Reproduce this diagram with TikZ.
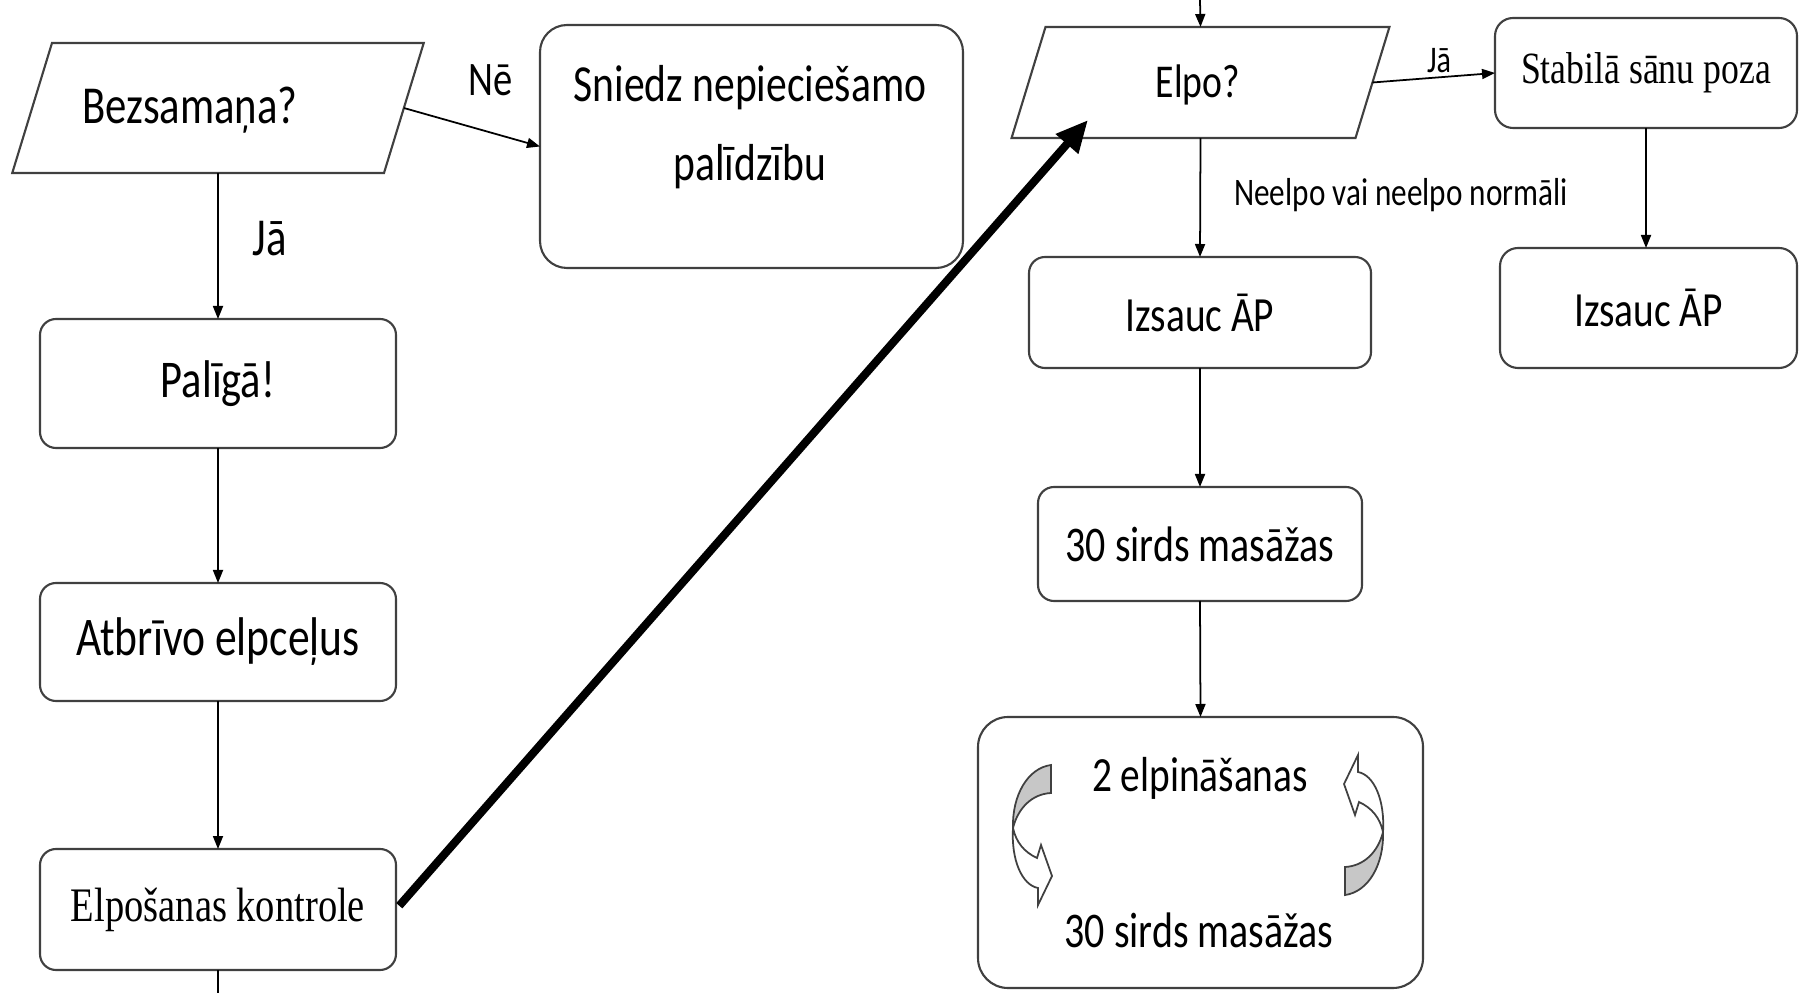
\documentclass[tikz,border=0pt]{standalone}
\usepackage{fontspec}
\setmainfont{Carlito}[FakeStretch=0.8]
\newfontfamily\timesfont{Liberation Serif}[FakeStretch=0.8]
\usetikzlibrary{arrows.meta,positioning,shapes.geometric}
\newcommand\fsz[1]{\fontsize{#1pt}{1.2\dimexpr #1pt\relax}\selectfont}

\tikzset{
  stepbox/.style={draw=black!75, line width=0.6pt, rounded corners=1.6mm, inner sep=0pt, outer sep=0pt},
  askbox/.style={draw=black!75, line width=0.6pt, trapezium, trapezium left angle=73, trapezium right angle=107,
    outer sep=0pt},
  flow/.style={-{Triangle[length=1.3mm,width=1mm]}, line width=0.5pt},
  jump/.style={-{Triangle[length=3.2mm,width=2.8mm]}, line width=2.3pt},
  turnfill/.style={draw=black!75, line width=0.5pt}
}

\begin{document}
\begin{tikzpicture}[x=0.1mm,y=-0.1mm]
  \fill[white] (0,0) rectangle (1800,993);
  \useasboundingbox (0,0) rectangle (1800,993);
  % left column
  \node[askbox, inner xsep=16.6mm, inner ysep=6.5mm] (bez) at (218,108) {};
  \node[font=\fsz{15.2}] (beztxt) at (190,110) {Bezsamaņa?};
  \node[stepbox, minimum width=35.6mm, minimum height=12.9mm, font=\fsz{15.1}] (paliga) at (218,383.5) {Palīgā!};
  \node[stepbox, minimum width=35.6mm, minimum height=11.8mm, font=\fsz{15.5}] (atbrivo) at (218,642) {Atbrīvo elpceļus};
  \node[stepbox, minimum width=35.6mm, minimum height=12.1mm, font=\timesfont\fsz{13.7}] (kontrole) at (218,909.5) {Elpošanas kontrole};
  \coordinate (exit) at (218,993);
  % help box
  \node[stepbox, rounded corners=2.7mm, minimum width=42.3mm, minimum height=24.3mm] (sniedz) at (751.5,146.5) {};
  \node[font={\fontsize{14.8pt}{22.5pt}\selectfont}, align=center] (sniedztxt) at (750,127) {Sniedz nepieciešamo\\palīdzību};
  % right part
  \coordinate (entry) at (1200,0);
  \node[askbox, inner xsep=15.5mm, inner ysep=5.55mm] (elpo) at (1200.5,82.5) {};
  \node[font=\fsz{13.4}] (elpotxt) at (1198,85) {Elpo?};
  \coordinate (elpotip) at (1088,120);
  \node[stepbox, rounded corners=1.8mm, minimum width=30.2mm, minimum height=11mm, font=\timesfont\fsz{12.7}] (stabila) at (1646,73) {Stabilā sānu poza};
  \node[stepbox, rounded corners=1.8mm, minimum width=29.7mm, minimum height=12mm, font=\fsz{14}] (izsaucb) at (1648.5,308) {Izsauc ĀP};
  \node[stepbox, minimum width=34.2mm, minimum height=11.1mm, font=\fsz{14}] (izsauca) at (1200,312.5) {Izsauc ĀP};
  \node[stepbox, minimum width=32.4mm, minimum height=11.4mm, font=\fsz{14.2}] (masaza) at (1200,544) {30 sirds masāžas};
  \node[stepbox, rounded corners=3mm, minimum width=44.5mm, minimum height=27.1mm] (cikls) at (1200.5,852.5) {};
  \node[font=\fsz{14}] (elpin) at (1200,778) {2 elpināšanas};
  \node[font=\fsz{14.2}] (masazb) at (1199,930) {30 sirds masāžas};
  % labels
  \node[font=\fsz{13.7}] (ne) at (491,80) {Nē};
  \node[font=\fsz{15.2}] (jaa) at (270,239) {Jā};
  \node[font=\fsz{10.7}] (jab) at (1439,61) {Jā};
  \node[font=\fsz{11.1}] (neelpo) at (1401,195) {Neelpo vai neelpo normāli};
  % connectors
  \draw[flow] (bez.south) -- (paliga.north);
  \draw[flow] (bez.east) -- (sniedz.west);
  \draw[flow] (paliga.south) -- (atbrivo.north);
  \draw[flow] (atbrivo.south) -- (kontrole.north);
  \draw[line width=0.5pt] (kontrole.south) -- (exit);
  \draw[jump, shorten <=0.5mm] (kontrole.east) -- (elpotip);
  \draw[flow] (entry) -- (elpo.north);
  \draw[flow] (elpo.east) -- (stabila.west);
  \draw[flow] (elpo.south) -- (izsauca.north);
  \draw[flow] (stabila.south) -- (stabila.south |- izsaucb.north);
  \draw[flow] (izsauca.south) -- (masaza.north);
  \draw[flow] (masaza.south) -- (cikls.north);
  % cycle arrows
  \foreach \r in {0,180}{
    \begin{scope}[shift={(1198,830)}, rotate=\r]
      \filldraw[turnfill, fill=black!22] (-147,-65) .. controls (-170,-62) and (-186,-35) .. (-185,-2)
        .. controls (-180,-22) and (-166,-36) .. (-147,-37) -- cycle;
      \filldraw[turnfill, fill=white] (-185,-2) .. controls (-187,30) and (-176,55) .. (-160,58)
        -- (-160,75) -- (-146,46) -- (-157,15) -- (-161,28) .. controls (-174,22) and (-182,12) .. (-185,-2) -- cycle;
    \end{scope}
  }
\end{tikzpicture}
\end{document}
